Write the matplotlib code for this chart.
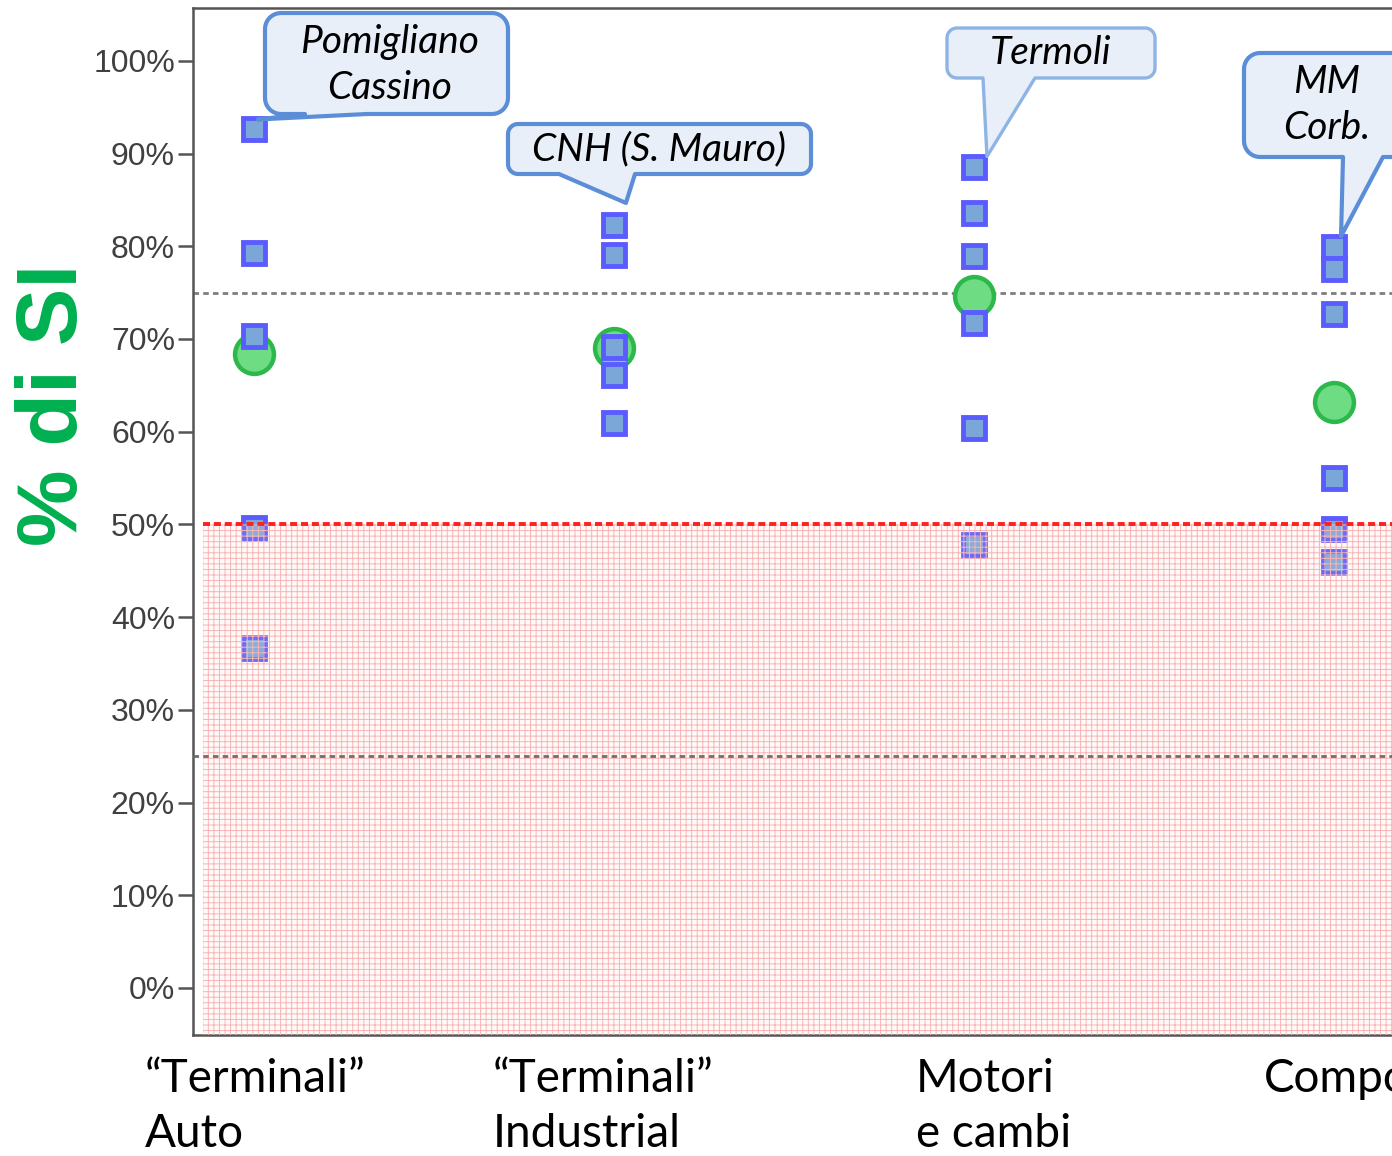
import numpy as np
import matplotlib
matplotlib.use("Agg")
import matplotlib.pyplot as plt
from matplotlib.patches import Polygon, Rectangle
from matplotlib.transforms import Affine2D

# data (percent of "SI")
categories = ["\u201cTerminali\u201d\nAuto", "\u201cTerminali\u201d\nIndustrial", "Motori\ne cambi", "Componenti"]
auto_vals = [92.6, 79.3, 70.3, 49.6, 36.7]
industrial_vals = [82.3, 79.1, 69.1, 66.1, 60.9]
motori_vals = [88.5, 83.6, 78.9, 71.7, 60.4, 47.8]
compo_vals = [79.9, 77.6, 72.7, 55.0, 49.5, 46.0]
means = [68.4, 69.0, 74.6, 63.2]
callout_texts = ["Pomigliano\nCassino", "CNH (S. Mauro)", "Termoli", "MM\nCorb."]
yticks = [0, 10, 20, 30, 40, 50, 60, 70, 80, 90, 100]

groups = [auto_vals, industrial_vals, motori_vals, compo_vals]

plt.rcParams["hatch.linewidth"] = 0.7

W, H = 1392, 1156
fig = plt.figure(figsize=(W / 100, H / 100), dpi=100)
ax = fig.add_axes([193 / W, (H - 1035) / H, (W - 193) / W, (1035 - 8) / H])
ax.set_xlim(-0.169, 3.161)
ax.set_ylim(-5.07, 105.7)

# reference lines
ax.axhline(75, color="#7f7f7f", lw=2, dashes=(2.0, 1.5), zorder=1)
ax.axhline(25, color="#6f6f6f", lw=2, dashes=(2.0, 1.5), zorder=7)

# mean circles then plant squares
for i, m in enumerate(means):
    ax.plot(i, m, "o", ms=28, mfc="#6edc82", mec="#2db84b", mew=3.2, zorder=3)
for i, vals in enumerate(groups):
    ax.plot([i] * len(vals), vals, "s", ls="none", ms=15.5, mfc="#7aa6d8",
            mec="#5a5cff", mew=3.5, zorder=4)

# red zone below 50%
ax.add_patch(Rectangle((-0.14, -5.07), 3.4, 55.07, facecolor=(1, 0.85, 0.85, 0.12),
                       edgecolor="#f9b4b4", hatch="+++", lw=0, zorder=5))
ax.plot([-0.14, 3.3], [50, 50], color="#ff2020", lw=2.8, dashes=(1.8, 1.0), zorder=6)

ax.set_yticks(yticks)
ax.set_yticklabels([f"{t}%" for t in yticks], fontsize=23, color="#404040",
                   family="Liberation Sans")
ax.tick_params(axis="y", length=11, width=1.8, color="#555555", pad=2)
ax.set_xticks([])
for s in ["left", "top", "bottom"]:
    ax.spines[s].set_color("#555555")
    ax.spines[s].set_linewidth(1.8)
ax.spines["right"].set_visible(False)

# category labels under the axis
label_dx = [-0.303, -0.336, -0.161, -0.194]
for i, lab in enumerate(categories):
    ax.text(i + label_dx[i], -7.6, lab, ha="left", va="top", fontsize=33,
            family="Lato", linespacing=1.36, clip_on=False)

fig.text(55 / W, 1 - 405 / H, "% di SI", rotation=90, ha="center", va="center",
         fontsize=62, fontweight="bold", color="#00b050", family="Liberation Sans")

# callouts (pixel coordinates, y from top)
px = Affine2D().scale(1 / W, -1 / H).translate(0, 1) + fig.transFigure


def to_px(x, y):
    dx, dy = ax.transData.transform((x, y))
    return dx, H - dy


def callout(box, r, base, tip, text, ec, lw, tcenter):
    x0, y0, x1, y1 = box
    pts = []

    def arc(cx, cy, a0, a1):
        for a in np.linspace(a0, a1, 10):
            pts.append((cx + r * np.cos(a), cy + r * np.sin(a)))

    arc(x0 + r, y0 + r, np.pi, 1.5 * np.pi)
    arc(x1 - r, y0 + r, 1.5 * np.pi, 2 * np.pi)
    arc(x1 - r, y1 - r, 0, 0.5 * np.pi)
    pts.append((base[1], y1))
    pts.append(tip)
    pts.append((base[0], y1))
    arc(x0 + r, y1 - r, 0.5 * np.pi, np.pi)
    fig.add_artist(Polygon(pts, closed=True, transform=px, facecolor="#e9eff9",
                           edgecolor=ec, lw=lw, joinstyle="round", zorder=10))
    fig.text(tcenter[0] / W, 1 - tcenter[1] / H, text, ha="center", va="center",
             fontsize=28, style="italic", family="Lato", linespacing=1.34, zorder=11)


boxes = [(265, 13, 508, 114), (508, 124, 811, 174), (947, 28, 1155, 78), (1244, 53, 1450, 157)]
radii = [16, 10, 10, 16]
bases = [(305, 367), (559, 635), (983, 1035), (1343, 1383)]
tip_off = [(4, -10), (12, -22), (13, -11), (7, -11)]
edges = ["#5b8ed6", "#5b8ed6", "#8eb4e3", "#5b8ed6"]
widths = [3, 3, 2.4, 3]
centers = [(390, 65), (659, 149), (1051, 53), (1327, 105)]
for i, txt in enumerate(callout_texts):
    tx, ty = to_px(i, max(groups[i]))
    tip = (tx + tip_off[i][0], ty + tip_off[i][1])
    callout(boxes[i], radii[i], bases[i], tip, txt, edges[i], widths[i], centers[i])

fig.savefig("out.png", dpi=100)
